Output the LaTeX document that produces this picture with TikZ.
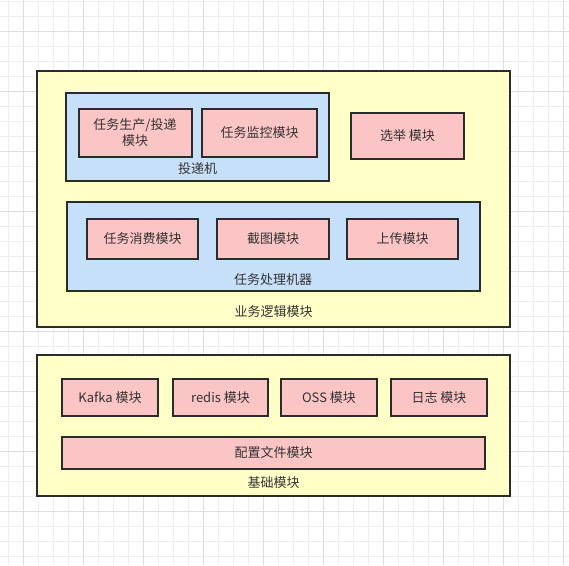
\documentclass[tikz,border=0pt]{standalone}
\usepackage{fontspec}
\setmainfont{Noto Sans CJK SC}
\definecolor{gridminor}{HTML}{EEEEEE}
\definecolor{gridmajor}{HTML}{DEDEDE}
\definecolor{yel}{HTML}{FFFFC8}
\definecolor{blu}{HTML}{C7E0FA}
\definecolor{pnk}{HTML}{FCC5C5}
\definecolor{edge}{HTML}{2B2B2B}
\definecolor{txt}{HTML}{333333}
\tikzset{
  base/.style={draw=edge, line width=2pt, rectangle, inner sep=0pt},
  outerbox/.style={base, fill=yel},
  groupbox/.style={base, fill=blu},
  modbox/.style={base, fill=pnk, text=txt, font=\fontsize{13}{16}\selectfont, align=center},
  lbl/.style={text=txt, font=\fontsize{13}{16}\selectfont, inner sep=0pt}
}
\begin{document}
\begin{tikzpicture}[x=1pt,y=-1pt]
\useasboundingbox (0,0) rectangle (569,565);
\fill[white] (0,0) rectangle (569,565);
% grid
\foreach \i in {0,...,37} {
  \draw[gridminor, line width=0.8pt] (8.3+15*\i,0) -- (8.3+15*\i,565);
  \draw[gridminor, line width=0.8pt] (0,1+15*\i) -- (569,1+15*\i);
}
\foreach \i in {0,...,9} {
  \draw[gridmajor, line width=0.8pt] (23.3+60*\i,0) -- (23.3+60*\i,565);
  \draw[gridmajor, line width=0.8pt] (0,31+60*\i) -- (569,31+60*\i);
}
% business logic module
\node[outerbox, minimum width=473pt, minimum height=256pt] (biz) at (273.5,199) {};
\node[groupbox, minimum width=263pt, minimum height=88pt] (deliver) at (197.5,137) {};
\node[modbox, minimum width=113pt, minimum height=48pt] (produce) at (135,133) {任务生产/投递\\模块};
\node[modbox, minimum width=115pt, minimum height=48pt] (monitor) at (259.5,133) {任务监控模块};
\node[lbl] (deliverlbl) at (197.5,169) {投递机};
\node[modbox, minimum width=113pt, minimum height=46pt] (elect) at (407.5,136) {选举 模块};
\node[groupbox, minimum width=413pt, minimum height=89pt] (worker) at (273.3,246.5) {};
\node[modbox, minimum width=111pt, minimum height=40pt] (consume) at (142.5,239) {任务消费模块};
\node[modbox, minimum width=112pt, minimum height=40pt] (shot) at (273,239) {截图模块};
\node[modbox, minimum width=111pt, minimum height=40pt] (upload) at (402.5,239) {上传模块};
\node[lbl] (workerlbl) at (273,280) {任务处理机器};
\node[lbl] (bizlbl) at (273.5,312) {业务逻辑模块};
% base module
\node[outerbox, minimum width=473pt, minimum height=141pt] (basebox) at (273.5,425.5) {};
\node[modbox, minimum width=96pt, minimum height=37pt] (kafka) at (110,397.5) {Kafka 模块};
\node[modbox, minimum width=95pt, minimum height=37pt] (redis) at (220.5,397.5) {redis 模块};
\node[modbox, minimum width=96pt, minimum height=37pt] (oss) at (329,397.5) {OSS 模块};
\node[modbox, minimum width=96pt, minimum height=37pt] (log) at (439,397.5) {日志 模块};
\node[modbox, minimum width=423pt, minimum height=32pt] (config) at (273.5,453) {配置文件模块};
\node[lbl] (baselbl) at (273.5,483) {基础模块};
\end{tikzpicture}
\end{document}
